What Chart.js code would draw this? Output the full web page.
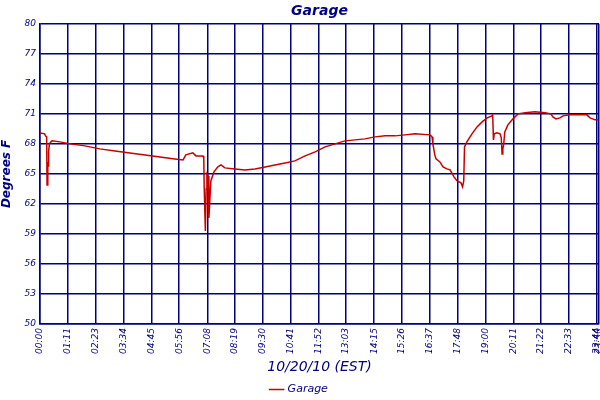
<!DOCTYPE html>
<html>
<head>
<meta charset="utf-8">
<script src="https://cdn.jsdelivr.net/npm/chart.js@4"></script>
<style>
  html, body { margin: 0; padding: 0; background: #fff; }
  #wrap { width: 600px; height: 400px; }
</style>
</head>
<body>
<div id="wrap"><canvas id="garagechart"></canvas></div>
<script>
// minutes after midnight, 10/20/10
const times = [0, 12, 14, 17, 18, 20, 21, 22, 24, 28, 31, 51, 77, 115, 153, 192, 230, 269, 307, 345,
  366, 373, 391, 399, 417, 419, 420, 423, 425, 427, 430, 432, 434, 437, 445, 455, 463, 473, 499, 524,
  550, 576, 601, 627, 652, 678, 704, 729, 755, 780, 806, 831, 857, 883, 908, 934, 959, 998, 1003, 1005,
  1010, 1013, 1023, 1031, 1041, 1049, 1059, 1067, 1077, 1081, 1084, 1086, 1092, 1105, 1118, 1131, 1144, 1156, 1158, 1160,
  1162, 1169, 1177, 1180, 1182, 1184, 1186, 1189, 1197, 1210, 1223, 1241, 1266, 1292, 1307, 1312, 1320, 1330, 1338, 1356,
  1381, 1399, 1407, 1420, 1428]
// degrees F
const garageTemps = [69.1, 69.0, 68.8, 68.7, 63.9, 66.2, 65.8, 67.2, 68.0, 68.2, 68.3, 68.2, 68.0, 67.8, 67.5, 67.3, 67.1, 66.9, 66.7, 66.5,
  66.4, 66.9, 67.1, 66.8, 66.8, 66.6, 63.7, 59.3, 63.5, 65.0, 64.8, 60.6, 62.0, 64.3, 65.2, 65.7, 65.9, 65.6, 65.5, 65.4,
  65.5, 65.7, 65.9, 66.1, 66.3, 66.8, 67.2, 67.7, 68.0, 68.3, 68.4, 68.5, 68.7, 68.8, 68.8, 68.9, 69.0, 68.9, 68.7, 68.0,
  66.9, 66.5, 66.2, 65.7, 65.5, 65.4, 64.7, 64.3, 64.1, 63.7, 64.3, 67.7, 68.2, 69.0, 69.7, 70.2, 70.6, 70.8, 70.9, 68.4,
  69.0, 69.1, 69.0, 68.6, 67.0, 67.5, 67.9, 69.2, 69.9, 70.5, 71.0, 71.1, 71.2, 71.1, 71.0, 70.7, 70.5, 70.6, 70.8, 70.9,
  70.9, 70.9, 70.6, 70.4, 70.4]

const tickMinutes = [0, 71, 143, 214, 285, 356, 428, 499, 570, 641, 712, 783, 855, 926, 997, 1068, 1140, 1211, 1282, 1353, 1424, 1430]
const tickLabels = ['00:00', '01:11', '02:23', '03:34', '04:45', '05:56', '07:08', '08:19', '09:30', '10:41', '11:52',
  '13:03', '14:15', '15:26', '16:37', '17:48', '19:00', '20:11', '21:22', '22:33', '23:44', '23:50']

const navy = '#000080'
const tickFont = { family: 'DejaVu Sans', size: 9, style: 'italic' }

const ctx = document.getElementById('garagechart')
const chart = new Chart(ctx, {
    type: 'line',
    data: {
        datasets: [{
            label: 'Garage',
            data: times.map((t, i) => ({ x: t, y: garageTemps[i] })),
            borderColor: '#c80000',
            backgroundColor: '#c80000',
            borderWidth: 1.5,
            pointRadius: 0,
            fill: false,
            tension: 0
        }]
    },
    options: {
        responsive: true,
        maintainAspectRatio: false,
        animation: false,
        layout: { padding: { right: 1, bottom: -5 } },
        plugins: {
            title: {
                display: true,
                text: 'Garage',
                fullSize: false,
                color: navy,
                font: { family: 'DejaVu Sans', size: 14, style: 'italic', weight: 'bold' },
                padding: { top: 3, bottom: 4 }
            },
            legend: {
                position: 'bottom',
                labels: {
                    color: navy,
                    usePointStyle: true,
                    pointStyle: 'line',
                    boxWidth: 14,
                    padding: 0,
                    font: { family: 'DejaVu Sans', size: 11, style: 'italic' }
                }
            },
            tooltip: { enabled: false }
        },
        scales: {
            x: {
                type: 'linear',
                min: 0,
                max: 1430,
                afterBuildTicks: s => { s.ticks = tickMinutes.map(v => ({ value: v })) },
                afterFit: s => { s.height = 60; s.paddingLeft = 0; s.paddingRight = 0 },
                grid: { color: navy, lineWidth: 1.5, drawTicks: false },
                border: { color: navy, width: 1.5 },
                ticks: {
                    autoSkip: false,
                    maxRotation: 90,
                    minRotation: 90,
                    padding: 4,
                    color: navy,
                    font: tickFont,
                    callback: v => tickLabels[tickMinutes.indexOf(v)]
                },
                title: {
                    display: true,
                    text: '10/20/10 (EST)',
                    color: navy,
                    padding: { top: 0, bottom: 8 },
                    font: { family: 'DejaVu Sans', size: 14, style: 'italic' }
                }
            },
            y: {
                min: 50,
                max: 80,
                afterFit: s => { s.width = 40 },
                grid: { color: navy, lineWidth: 1.5, drawTicks: false },
                border: { color: navy, width: 1.5 },
                ticks: {
                    stepSize: 3,
                    padding: 4,
                    color: navy,
                    font: tickFont
                },
                title: {
                    display: true,
                    text: 'Degrees F',
                    color: navy,
                    padding: 0,
                    font: { family: 'DejaVu Sans', size: 12, style: 'italic', weight: 'bold' }
                }
            }
        }
    }
});
</script>
</body>
</html>
